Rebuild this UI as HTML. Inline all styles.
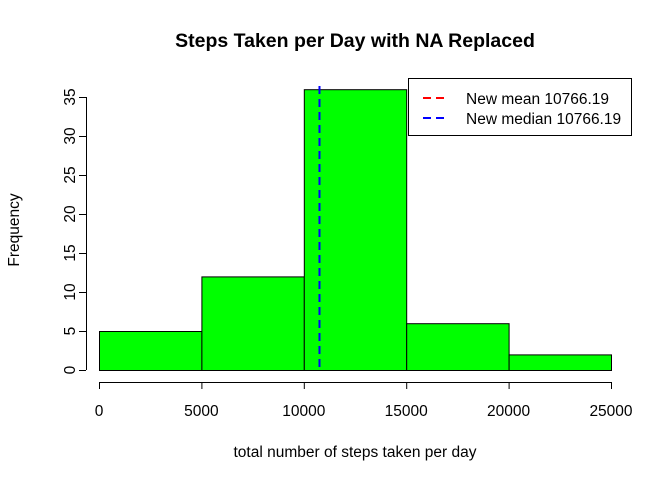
<!DOCTYPE html>
<html><head><meta charset="utf-8"><style>body{margin:0;background:#fff}svg{display:block;font-family:"Liberation Sans",Arial,sans-serif}</style></head>
<body>
<svg id="chart" width="672" height="480" xmlns="http://www.w3.org/2000/svg">
<text x="355" y="47" text-anchor="middle" font-size="19.5" font-weight="bold">Steps Taken per Day with NA Replaced</text>
<text x="355" y="457" text-anchor="middle" font-size="15.5">total number of steps taken per day</text>
<text transform="translate(19,230) rotate(-90)" text-anchor="middle" font-size="15.5">Frequency</text>
<g id="bars"></g><g id="axes"></g><g id="lines"></g>
<g>
<rect x="408.5" y="78.5" width="223" height="57" fill="#fff" stroke="#000"/>
<line x1="423" y1="98" x2="449" y2="98" stroke="red" stroke-width="2" stroke-dasharray="8,5"/>
<text x="466" y="104" font-size="15.5">New mean 10766.19</text>
<line x1="423" y1="118" x2="449" y2="118" stroke="blue" stroke-width="2" stroke-dasharray="8,5"/>
<text x="466" y="124" font-size="15.5">New median 10766.19</text>
</g>
</svg>
<script>
const binEdges=[0,5000,10000,15000,20000,25000];
const counts=[5,12,36,6,2];
const xTicks=[0,5000,10000,15000,20000,25000];
const yTicks=[0,5,10,15,20,25,30,35];
const meanVal=10766.19;
const medianVal=10766.19;
const NS="http://www.w3.org/2000/svg";
const X=v=>99+v*(512/25000);
const Y=v=>370-v*7.8;
function mk(tag,a,p){const e=document.createElementNS(NS,tag);for(const k in a)e.setAttribute(k,a[k]);p.appendChild(e);return e;}
const bars=document.getElementById('bars'),axes=document.getElementById('axes'),lines=document.getElementById('lines');
counts.forEach((c,i)=>{const r=mk('rect',{x:X(binEdges[i])+0.5,y:Y(c)+0.5,width:X(binEdges[i+1])-X(binEdges[i]),height:Y(0)-Y(c),fill:'#00ff00',stroke:'#000','stroke-width':1},bars);

});
mk('line',{x1:X(0),y1:382.5,x2:X(25000),y2:382.5,stroke:'#000'},axes);
xTicks.forEach(t=>{mk('line',{x1:X(t)+0.5,y1:382,x2:X(t)+0.5,y2:389,stroke:'#000'},axes);
const tx=mk('text',{x:X(t),y:416,'text-anchor':'middle','font-size':15.5},axes);tx.textContent=t;

});
mk('line',{x1:86.5,y1:Y(0),x2:86.5,y2:Y(35),stroke:'#000'},axes);
yTicks.forEach(t=>{mk('line',{x1:79,y1:Y(t)+0.5,x2:86,y2:Y(t)+0.5,stroke:'#000'},axes);
const tx=mk('text',{transform:`translate(75,${Y(t)}) rotate(-90)`,'text-anchor':'middle','font-size':15.5},axes);tx.textContent=t;

});
const ml=mk('line',{x1:X(meanVal),y1:86,x2:X(meanVal),y2:370,stroke:'red','stroke-width':2,'stroke-dasharray':'8,5'},lines);


const md=mk('line',{x1:X(medianVal),y1:86,x2:X(medianVal),y2:370,stroke:'blue','stroke-width':2,'stroke-dasharray':'8,5'},lines);


</script>
</body></html>
